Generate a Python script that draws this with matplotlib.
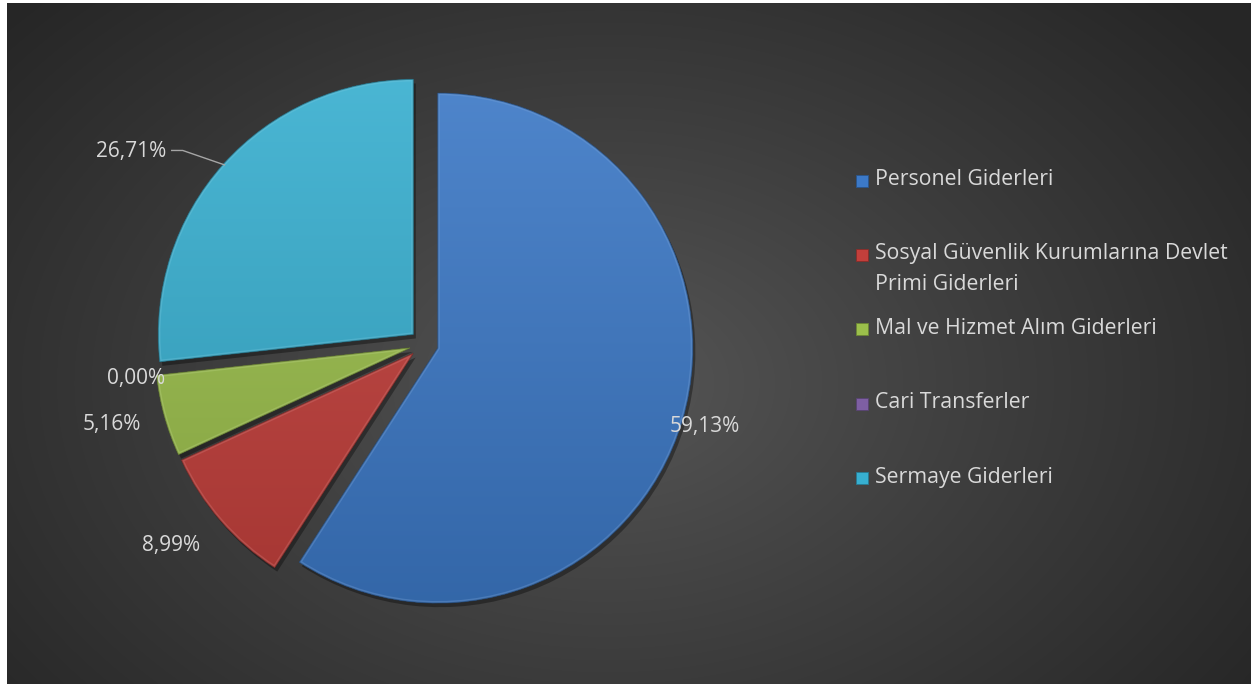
import numpy as np
import matplotlib
matplotlib.use("Agg")
import matplotlib.pyplot as plt
from matplotlib.patches import Rectangle, Wedge
from matplotlib.colors import to_rgb

# ---------------- data ----------------
categories = ["Personel Giderleri",
              "Sosyal Güvenlik Kurumlarına Devlet\nPrimi Giderleri",
              "Mal ve Hizmet Alım Giderleri",
              "Cari Transferler",
              "Sermaye Giderleri"]
values = [59.13, 8.99, 5.16, 0.00, 26.71]
value_labels = ["59,13%", "8,99%", "5,16%", "0,00%", "26,71%"]
colors = ["#3c79c7", "#c33f3b", "#9bbf4b", "#7e5fa3", "#37afd0"]

# ---------------- layout ----------------
W, H = 1251, 684
R = 255.0                      # pie radius in px
PCX, PCY = 424, 344            # pie centre in px (from top)
FONT = ["Open Sans", "DejaVu Sans"]
TXT = "#d9d9d9"

fig = plt.figure(figsize=(W / 100, H / 100), dpi=100, facecolor="white")

# background radial gradient
bg = fig.add_axes([7 / W, 0, (W - 7) / W, (H - 3) / H])
hh, ww = H - 3, W - 7
yy, xx = np.mgrid[0:hh, 0:ww]
d = np.sqrt(((xx - 600) / 800.0) ** 2 + ((yy - 380) / 560.0) ** 2)
d = np.clip(d, 0, 1) ** 0.9
c_in = np.array(to_rgb("#575757"))
c_out = np.array(to_rgb("#262626"))
img = c_in[None, None, :] * (1 - d[..., None]) + c_out[None, None, :] * d[..., None]
bg.imshow(img, aspect="auto", interpolation="bilinear")
bg.axis("off")

# pie axes: 1 data unit = R px
ax = fig.add_axes([0, 0, 1, 1])
ax.patch.set_alpha(0)
expl = 14.4 / R
wedges, _ = ax.pie(values, colors=colors, startangle=90, counterclock=False,
                   explode=[expl] * len(values), radius=1, labeldistance=None,
                   wedgeprops=dict(linewidth=0))
ax.set_xlim(-PCX / R, (W - PCX) / R)
ax.set_ylim(-(H - PCY) / R, PCY / R)
ax.set_aspect("auto")
ax.axis("off")


def shade(c, f):
    c = np.array(to_rgb(c))
    if f >= 0:
        return c + (1 - c) * f
    return c * (1 + f)


for w, col in zip(wedges, colors):
    if w.theta2 - w.theta1 < 1e-6:
        w.set_visible(False)
        continue
    # drop shadow
    sh = Wedge((w.center[0] + 0.010, w.center[1] - 0.016), w.r, w.theta1, w.theta2,
               facecolor="black", alpha=0.35, linewidth=0, zorder=0.5)
    ax.add_patch(sh)
    w.set_zorder(1)
    # vertical gradient fill
    grad = np.linspace(0, 1, 256)[:, None]
    top, bot = shade(col, 0.10), shade(col, -0.16)
    gimg = top[None, None, :] * (1 - grad[..., None]) + bot[None, None, :] * grad[..., None]
    gimg = np.repeat(gimg, 2, axis=1)
    im = ax.imshow(gimg, extent=(-1.2, 1.2, -1.1, 1.1), aspect="auto",
                   interpolation="bilinear", zorder=1.1)
    im.set_clip_path(w)
    # bevel rim (light, subtle)
    rim = Wedge(w.center, w.r, w.theta1, w.theta2, facecolor="none",
                edgecolor=shade(col, 0.30), linewidth=3.0, alpha=0.35, zorder=1.2)
    ax.add_patch(rim)
    rim.set_clip_path(w)
    # dark outer line
    ol = Wedge(w.center, w.r, w.theta1, w.theta2, facecolor="none",
               edgecolor=shade(col, -0.45), linewidth=0.8, alpha=0.6, zorder=1.3)
    ax.add_patch(ol)

# data labels: (radial distance, angular offset) per slice -- layout only
label_pos = [(1.09, 0.0), (1.21, -2.5), (1.21, -1.0), (1.08, 0.7), (1.32, 9.0)]
label_texts = []
for w, lab, (rd, dth) in zip(wedges, value_labels, label_pos):
    mid = 0.5 * (w.theta1 + w.theta2)
    a = np.deg2rad(mid + dth)
    x = w.center[0] + rd * np.cos(a)
    y = w.center[1] + rd * np.sin(a)
    t = ax.text(x, y, lab, ha="center", va="center", fontsize=15, color=TXT,
                family=FONT, zorder=5)
    label_texts.append(t)

# leader line for the Sermaye slice
wc = wedges[4]
mid = np.deg2rad(0.5 * (wc.theta1 + wc.theta2))
p0 = (wc.center[0] + 0.995 * np.cos(mid), wc.center[1] + 0.995 * np.sin(mid))
lx = label_texts[4].get_position()
p_elbow = (lx[0] + 52 / R, lx[1] + 1 / R)
p_end = (lx[0] + 41 / R, lx[1] + 1 / R)
ax.plot([p0[0], p_elbow[0], p_end[0]], [p0[1], p_elbow[1], p_end[1]],
        color="#a6a6a6", lw=1.0, zorder=4)

# legend (manual)
row_y = [181, 255, 329, 404, 478]     # px from top, first-line centres
mk_x, mk_w, mk_h = 856, 12, 12
tx = 875
for cat, col, yc in zip(categories, colors, row_y):
    rect = Rectangle(((mk_x) / W, 1 - (yc + mk_h / 2) / H), mk_w / W, mk_h / H,
                     transform=fig.transFigure, facecolor=col,
                     edgecolor=shade(col, -0.3), linewidth=0.6, zorder=5)
    fig.patches.append(rect)
    for i, line in enumerate(cat.split("\n")):
        fig.text(tx / W, 1 - (yc - 1 + i * 30) / H, line, ha="left", va="center",
                 fontsize=15.3, color=TXT, family=FONT)

fig.savefig("out.png", dpi=100, facecolor="white")
